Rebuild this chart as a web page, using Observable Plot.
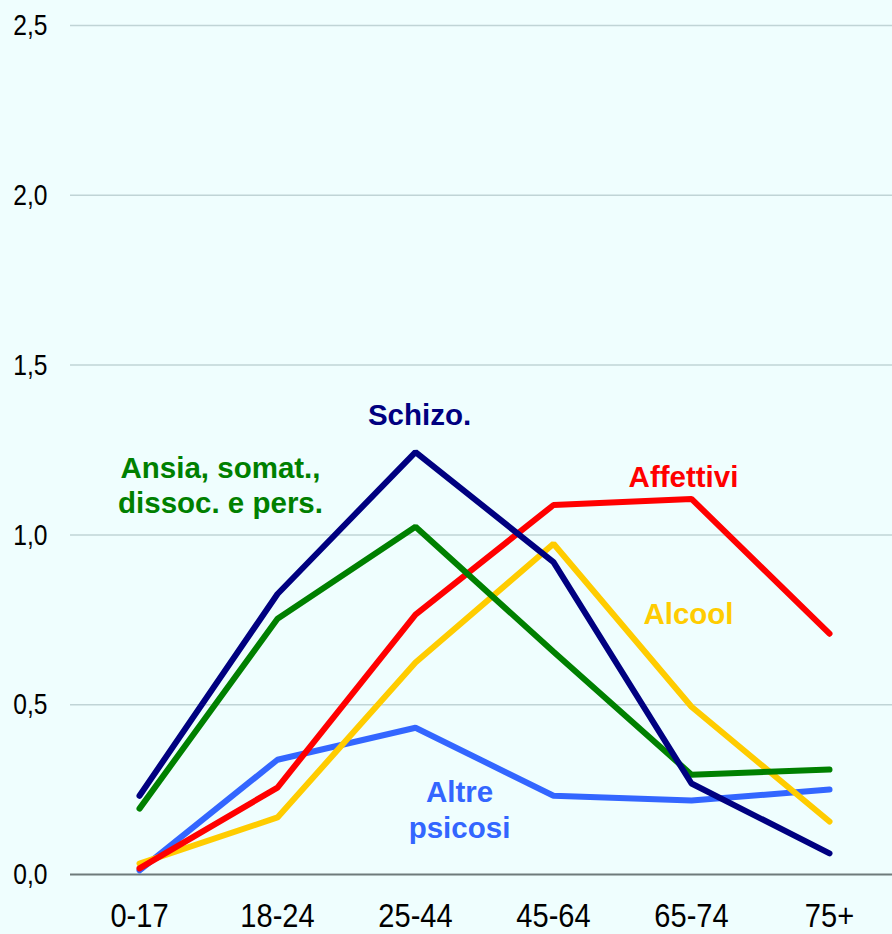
<!DOCTYPE html>
<html>
<head>
<meta charset="utf-8">
<script src="https://cdn.jsdelivr.net/npm/d3@7"></script>
<script src="https://cdn.jsdelivr.net/npm/@observablehq/plot@0.6"></script>
<style>
  html, body { margin: 0; padding: 0; background: #effefe; }
  #chart svg { display: block; }
</style>
</head>
<body>
<div id="chart"></div>
<script>
const ageGroups = ["0-17", "18-24", "25-44", "45-64", "65-74", "75+"];
const schizo    = [0.232, 0.826, 1.244, 0.920, 0.268, 0.062];
const ansia     = [0.194, 0.753, 1.024, 0.656, 0.294, 0.309];
const affettivi = [0.018, 0.256, 0.765, 1.088, 1.106, 0.709];
const alcool    = [0.032, 0.168, 0.624, 0.974, 0.494, 0.156];
const altre     = [0.012, 0.338, 0.432, 0.232, 0.218, 0.250];
const yTicks = [0, 0.5, 1, 1.5, 2, 2.5];

const series = [
  {name: "Altre psicosi", values: altre, color: "#3366ff"},
  {name: "Alcool", values: alcool, color: "#ffcc00"},
  {name: "Affettivi", values: affettivi, color: "#ff0000"},
  {name: "Ansia", values: ansia, color: "#008000"},
  {name: "Schizo.", values: schizo, color: "#000080"}
];
const rows = series.flatMap(s => s.values.map((v, i) => ({serie: s.name, age: ageGroups[i], value: v, color: s.color})));

// annotation labels (anchored in data space, with a small horizontal nudge)
const labels = [
  {text: "Schizo.", age: "25-44", value: 1.35, dx: 4, color: "#000080"},
  {text: "Ansia, somat.,", age: "0-17", value: 1.195, dx: 81, color: "#008000"},
  {text: "dissoc. e pers.", age: "0-17", value: 1.092, dx: 81, color: "#008000"},
  {text: "Affettivi", age: "65-74", value: 1.17, dx: -8, color: "#ff0000"},
  {text: "Alcool", age: "65-74", value: 0.765, dx: -3, color: "#ffcc00"},
  {text: "Altre", age: "25-44", value: 0.242, dx: 44, color: "#3366ff"},
  {text: "psicosi", age: "25-44", value: 0.134, dx: 44, color: "#3366ff"}
];

const font = "'Liberation Sans Narrow', 'Liberation Sans', Arial, sans-serif";

const chart = Plot.plot({
  width: 892,
  height: 934,
  marginLeft: 70,
  marginRight: 0,
  marginTop: 25,
  marginBottom: 60,
  style: {background: "#effefe", fontFamily: font, color: "#000"},
  x: {type: "point", domain: ageGroups, range: [139, 829], padding: 0, label: null},
  y: {domain: [0, 2.5], range: [874, 25], label: null},
  marks: [
    Plot.ruleY(yTicks.filter(d => d > 0), {stroke: "#c0d4d6", strokeWidth: 1.5}),
    Plot.ruleY([0], {stroke: "#6f7b7b", strokeWidth: 2}),
    Plot.axisY(yTicks, {tickSize: 0, tickPadding: 23, fontSize: 30, tickFormat: d => d.toFixed(1).replace(".", ","), fill: "#000"}),
    Plot.axisX(ageGroups, {tickSize: 0, tickPadding: 29, fontSize: 33, fill: "#000"}),
    Plot.line(rows, {x: "age", y: "value", z: "serie", stroke: "color", strokeWidth: 6, strokeLinecap: "round", strokeLinejoin: "miter"}),
    ...labels.map(l => Plot.text([l], {x: "age", y: "value", dx: l.dx, text: "text", fill: "color", fontSize: 29.5, fontWeight: "bold", fontFamily: "'Liberation Sans', Arial, sans-serif"}))
  ]
});
document.getElementById("chart").appendChild(chart);

// condense tick labels to mimic the narrow typeface of the original
d3.select(chart).selectAll("g[aria-label='y-axis tick label'] text").each(function() {
  const t = this.getAttribute("transform") || "";
  this.setAttribute("transform", t + " scale(0.82,1)");
});
d3.select(chart).selectAll("g[aria-label='x-axis tick label'] text").each(function() {
  const t = this.getAttribute("transform") || "";
  this.setAttribute("transform", t + " scale(0.88,1)");
});
</script>
</body>
</html>
